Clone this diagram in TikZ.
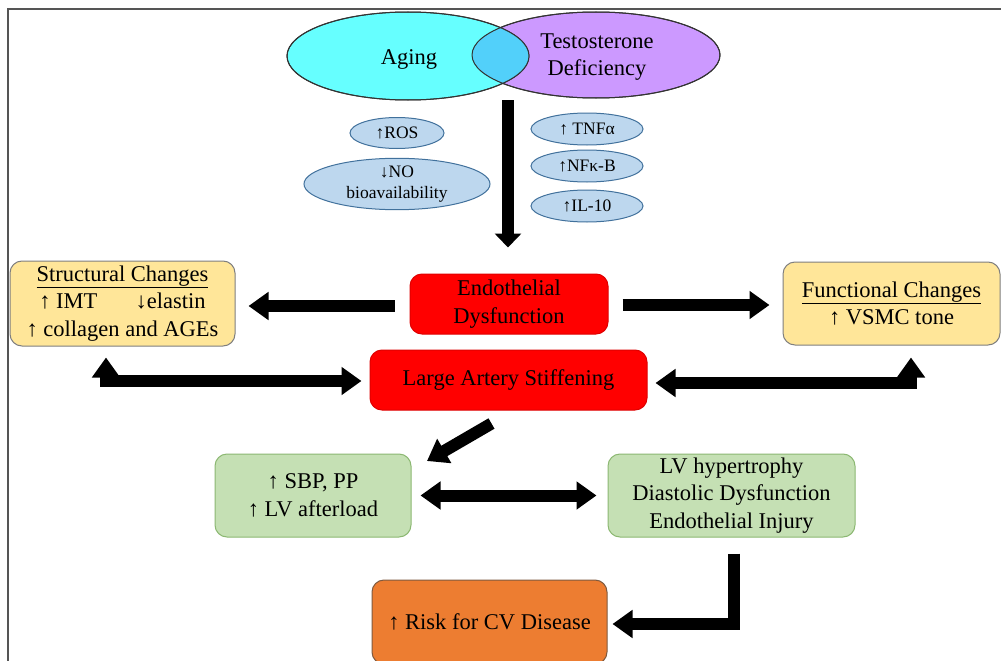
\documentclass[tikz,border=0pt]{standalone}
\usepackage{fontspec}
\setmainfont{Liberation Serif}
\usetikzlibrary{shapes.geometric,arrows.meta}
\definecolor{cyanA}{HTML}{66FFFF}
\definecolor{purpA}{HTML}{CC99FF}
\definecolor{overA}{HTML}{52D0FA}
\definecolor{pale}{HTML}{BDD7EE}
\definecolor{paleB}{HTML}{41719C}
\definecolor{redA}{HTML}{FF0000}
\definecolor{redB}{HTML}{C00000}
\definecolor{yel}{HTML}{FFE699}
\definecolor{yelB}{HTML}{7F7F7F}
\definecolor{grn}{HTML}{C5E0B4}
\definecolor{grnB}{HTML}{8CB872}
\definecolor{org}{HTML}{ED7D31}
\definecolor{orgB}{HTML}{7F5A3F}
\definecolor{frameC}{HTML}{555555}
\begin{document}
\begin{tikzpicture}[x=1pt,y=-1pt,
  lbl/.style={font=\fontsize{22.5}{27.5}\selectfont, align=center},
  bigell/.style={ellipse, draw=black!80, line width=1pt, inner sep=0pt},
  sml/.style={ellipse, draw=paleB, line width=1pt, fill=pale, inner sep=0pt,
              font=\fontsize{17.5}{21}\selectfont, align=center},
  rbox/.style={rounded corners=12pt, line width=1pt, inner sep=0pt, lbl},
  bigarrow/.style={line width=12pt, line join=miter,
                   -{Triangle[width=27pt,length=20pt]}},
  dblarrow/.style={line width=12pt, line join=miter,
                   {Triangle[width=27pt,length=20pt]}-{Triangle[width=27pt,length=20pt]}}]

\useasboundingbox (0,0) rectangle (1001,661);
\fill[white] (0,0) rectangle (1001,661);

% frame
\draw[line width=2pt, frameC] (8,661) -- (8,9.5) -- (1001,9.5);

% big ellipses
\node[bigell, fill=purpA, minimum width=248pt, minimum height=86pt] (testo) at (596,55) {};
\node[bigell, fill=cyanA, minimum width=242pt, minimum height=88pt] (aging) at (408,56) {};
\begin{scope}
  \clip (aging.center) ellipse [x radius=121pt, y radius=44pt];
  \fill[overA] (testo.center) ellipse [x radius=124pt, y radius=43pt];
\end{scope}
\draw[black!80, line width=1pt] (aging.center) ellipse [x radius=121pt, y radius=44pt];
\draw[black!80, line width=1pt] (testo.center) ellipse [x radius=124pt, y radius=43pt];
\node[lbl] (agingT) at (409,59) {Aging};
\node[lbl] (testoT) at (597,57) {Testosterone\\Deficiency};

% small ellipses
\node[sml, minimum width=94pt, minimum height=31pt] (ros) at (397,133) {↑ROS};
\node[sml, minimum width=186pt, minimum height=48pt] (no) at (397,184) {↓NO\\bioavailability};
\node[sml, minimum width=112pt, minimum height=32pt] (tnf) at (587,129) {↑ TNFα};
\node[sml, minimum width=112pt, minimum height=32pt] (nfk) at (587,166) {↑NFκ-B};
\node[sml, minimum width=112pt, minimum height=32pt] (il) at (587,206) {↑IL-10};

% main boxes
\node[rbox, fill=redA, draw=redB!50!redA, minimum width=198pt, minimum height=60pt] (endo) at (509,304) {Endothelial\\Dysfunction};
\node[rbox, fill=redA, draw=redB!50!redA, minimum width=277pt, minimum height=60pt] (large) at (508.5,380) {Large Artery Stiffening};
\node[rbox, fill=yel, draw=yelB, minimum width=225pt, minimum height=85pt] (struct) at (122.5,303.5) {\underline{Structural Changes}\\↑ IMT\hspace{1.7em}↓elastin\\↑ collagen and AGEs};
\node[rbox, fill=yel, draw=yelB, minimum width=217pt, minimum height=83pt] (func) at (891.5,303.5) {\underline{Functional Changes}\\↑ VSMC tone};
\node[rbox, fill=grn, draw=grnB, minimum width=196pt, minimum height=83pt] (sbp) at (313,495.5) {↑ SBP, PP\\↑ LV afterload};
\node[rbox, fill=grn, draw=grnB, minimum width=247pt, minimum height=83pt] (lv) at (731.5,495.5) {LV hypertrophy\\Diastolic Dysfunction\\Endothelial Injury};
\node[rbox, fill=org, draw=orgB, minimum width=235pt, minimum height=84pt] (risk) at (489.5,622) {↑ Risk for CV Disease};

% arrows
\coordinate (dtop) at (508,100);
\draw[line width=12pt, -{Triangle[width=26pt,length=14pt]}, shorten >=26pt] (dtop) -- (dtop |- endo.north);

\coordinate (e1) at ([yshift=-2pt]endo.west);
\draw[bigarrow, shorten <=15pt, shorten >=13pt] (e1) -- (e1 -| struct.east);

\coordinate (e2) at ([yshift=-1pt]endo.east);
\draw[bigarrow, shorten <=14pt, shorten >=13pt] (e2) -- (e2 -| func.west);

\coordinate (l1) at (106,381);
\draw[dblarrow, shorten <=11pt, shorten >=8pt] (l1 |- struct.south) -- (l1) -- (l1 -| large.west);

\coordinate (r1) at (911,383);
\draw[dblarrow, shorten <=8pt, shorten >=12pt] (r1 -| large.east) -- (r1) -- (r1 |- func.south);

\coordinate (g1) at ([xshift=-17pt,yshift=-13pt]large.south);
\coordinate (g2) at (427,461);
\draw[bigarrow] (g1) -- (g2);

\draw[dblarrow, shorten <=9pt, shorten >=11pt] (sbp.east) -- (lv.west);

\coordinate (v1) at (734,624);
\draw[bigarrow, shorten <=16pt, shorten >=5pt] (v1 |- lv.south) -- (v1) -- (v1 -| risk.east);
\end{tikzpicture}
\end{document}
